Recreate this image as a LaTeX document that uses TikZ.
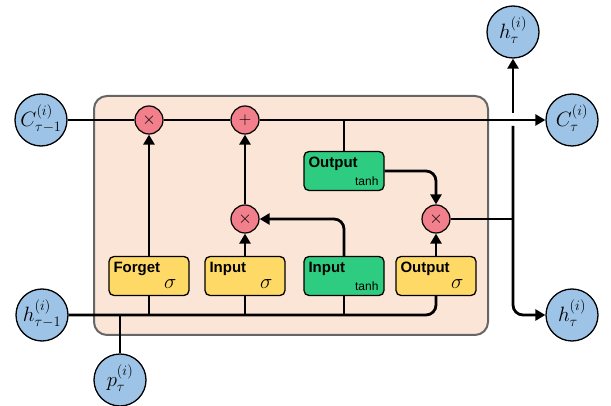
\documentclass[tikz,border=0pt]{standalone}
\usepackage{fontspec}
\setsansfont{Liberation Sans}
\usetikzlibrary{arrows.meta}

\definecolor{cellfill}{HTML}{FBE5D6}
\definecolor{cellline}{HTML}{666666}
\definecolor{stateblue}{HTML}{9DC3E6}
\definecolor{oppink}{HTML}{F2808C}
\definecolor{sigyellow}{HTML}{FFD966}
\definecolor{tanhgreen}{HTML}{2ECC80}

\tikzset{
  state/.style={circle, draw, fill=stateblue, line width=1.3pt, minimum size=52pt, inner sep=0pt, font=\fontsize{22}{22}\selectfont},
  op/.style={circle, draw, fill=oppink, line width=1.2pt, minimum size=28pt, inner sep=0pt, font=\fontsize{16}{16}\selectfont},
  gate/.style={draw, rounded corners=5pt, line width=1.3pt, minimum width=80pt, minimum height=39pt, inner sep=0pt},
  sig/.style={gate, fill=sigyellow},
  tgate/.style={gate, fill=tanhgreen},
  gname/.style={anchor=north west, inner sep=0pt, font=\sffamily\bfseries\fontsize{15}{15}\selectfont},
  gfun/.style={anchor=south east, inner sep=0pt, font=\fontsize{22}{22}\selectfont},
  tfun/.style={anchor=south east, inner sep=0pt, font=\sffamily\fontsize{12}{12}\selectfont},
  flow/.style={line width=2.8pt},
  arr/.style={flow, -{Triangle[length=10pt, width=11pt]}}
}

\begin{document}
\begin{tikzpicture}[x=1pt, y=-1pt]
\useasboundingbox (0,0) rectangle (611,406);
% the cell
\draw [fill=cellfill, draw=cellline, line width=2pt, rounded corners=13pt] (94,96) rectangle (488,335);

% states
\node [state] (cprev) at (41,120) {$C_{\tau-1\vphantom{(}}^{(i)}$};
\node [state] (hprev) at (42,315) {$h_{\tau-1\vphantom{(}}^{(i)}$};
\node [state] (pt) at (120,380) {$p_{\tau\vphantom{(}}^{(i)}$};
\node [state] (hup) at (513,32) {$h_{\tau\vphantom{(}}^{(i)}$};
\node [state] (cnext) at (572,120) {$C_{\tau\vphantom{(}}^{(i)}$};
\node [state] (hnext) at (572,315) {$h_{\tau\vphantom{(}}^{(i)}$};

% pointwise ops
\node [op] (fx) at (149,120) {$\times$};
\node [op] (ax) at (245,120) {$+$};
\node [op] (ix) at (245,219) {$\times$};
\node [op] (ox) at (436,219) {$\times$};

% gates
\node [sig] (fg) at (149,276) {};
\node [sig] (ig) at (245,276) {};
\node [tgate] (it) at (344,276) {};
\node [sig] (og) at (436,276) {};
\node [tgate] (ot) at (344,171) {};

\node [gname] (fgname) at ([shift={(5,6)}]fg.north west) {Forget};
\node [gfun] (fgfun) at ([shift={(-13,-7)}]fg.south east) {$\sigma$};
\node [gname] (igname) at ([shift={(5,6)}]ig.north west) {Input};
\node [gfun] (igfun) at ([shift={(-13,-7)}]ig.south east) {$\sigma$};
\node [gname] (itname) at ([shift={(5,6)}]it.north west) {Input};
\node [tfun] (itfun) at ([shift={(-6,-5)}]it.south east) {tanh};
\node [gname] (ogname) at ([shift={(5,6)}]og.north west) {Output};
\node [gfun] (ogfun) at ([shift={(-13,-7)}]og.south east) {$\sigma$};
\node [gname] (otname) at ([shift={(5,6)}]ot.north west) {Output};
\node [tfun] (otfun) at ([shift={(-6,-5)}]ot.south east) {tanh};

% cell state line
\draw [flow] (cprev) -- (fx);
\draw [flow] (fx) -- (ax);
\draw [arr] (ax) -- (cnext);
\draw [flow] (ot.north) -- (ot.north |- ax);

% gate outputs
\draw [arr] (fg) -- (fx);
\draw [arr] (ig) -- (ix);
\draw [arr] (ix) -- (ax);
\draw [arr, rounded corners=10pt] (it.north) |- (ix);
\draw [arr, rounded corners=10pt] (ot.east) -| (ox);
\draw [arr] (og) -- (ox);

% hidden state in
\draw [flow, rounded corners=10pt] (hprev) -| (og.south);
\draw [flow] (fg.south) -- (fg.south |- hprev);
\draw [flow] (ig.south) -- (ig.south |- hprev);
\draw [flow] (it.south) -- (it.south |- hprev);
\draw [flow] (pt) -- (pt |- hprev);

% hidden state out
\coordinate (hj) at (513,219);
\coordinate (hgapb) at (513,126);
\coordinate (hgapt) at (513,113);
\draw [flow] (ox) -- (hj);
\draw [arr, rounded corners=10pt] (hgapb) -- (hj) |- (hnext);
\draw [arr] (hgapt) -- (hup);
\end{tikzpicture}
\end{document}
